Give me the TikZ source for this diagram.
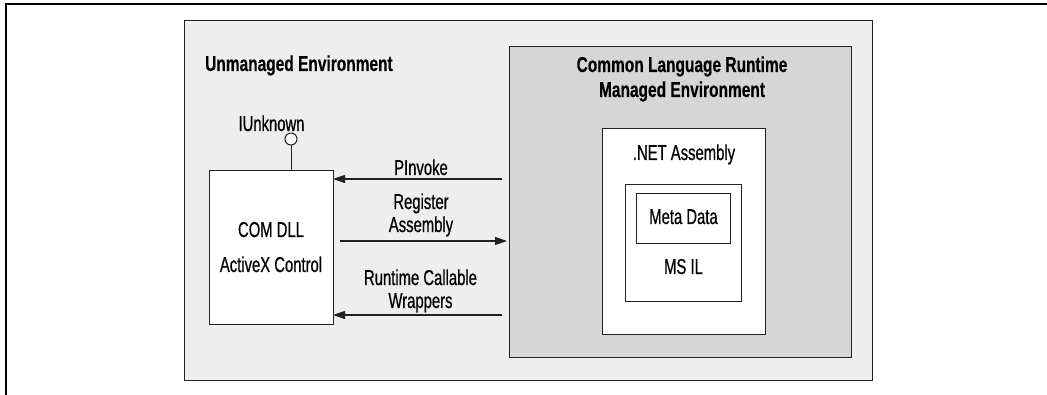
\documentclass[tikz,border=0pt]{standalone}
\usepackage{fontspec}
\setmainfont[FakeStretch=0.69,FakeBold=0.6,BoldFeatures={FakeStretch=0.72,FakeBold=0.3}]{Liberation Sans}
\usetikzlibrary{arrows.meta}
\definecolor{envfill}{HTML}{EEEEEE}
\definecolor{clrfill}{HTML}{D6D6D6}
\definecolor{linec}{HTML}{222222}
\begin{document}
\begin{tikzpicture}[x=1pt,y=-1pt,
  every node/.style={font=\fontsize{21.5}{23}\selectfont, text=black},
  box/.style={draw=linec, line width=1pt, anchor=north west, inner sep=0pt, outer sep=0pt},
  lbl/.style={anchor=base, inner sep=0pt, align=center},
  ttl/.style={anchor=base, inner sep=0pt, align=center, font=\fontsize{21.5}{23}\selectfont\bfseries},
  arr/.style={draw=linec, line width=1.1pt, -{Triangle[length=12pt,width=8pt]}}
]
\useasboundingbox (0,0) rectangle (1047,395);
% outer frame (clipped at right and bottom)
\draw[line width=1.5pt, black] (6,395) -- (6,4) -- (1047,4);

\node[box, fill=envfill, minimum width=688pt, minimum height=359pt] (env) at (184,21) {};
\node[box, fill=clrfill, minimum width=342pt, minimum height=310pt] (clr) at (509,47) {};
\node[box, fill=white, minimum width=163pt, minimum height=206pt] (net) at (602,129) {};
\node[box, fill=white, minimum width=116pt, minimum height=117pt] (msil) at (625,185) {};
\node[box, fill=white, minimum width=94pt, minimum height=50pt] (meta) at (636,194) {};
\node[box, fill=white, minimum width=124pt, minimum height=154pt] (com) at (209,171) {};

% texts (multi-line nodes: base = baseline of last line)
\node[ttl, anchor=base west] (envt) at (205,71) {Unmanaged Environment};
\node[ttl] (clrt) at (682,97) {Common Language Runtime\\[2pt]Managed Environment};
\node[lbl] (nett) at (684,160) {.NET Assembly};
\node[lbl] (metat) at (683.5,224) {Meta Data};
\node[lbl] (msilt) at (683.5,274) {MS IL};
\node[lbl] (comt) at (271,272) {COM DLL\\[12pt]ActiveX Control};

% IUnknown lollipop
\node[draw=linec, fill=white, circle, line width=1pt, minimum size=12pt, inner sep=0pt] (iu) at (291,139) {};
\draw[linec, line width=1pt] (iu.south) -- (iu.south |- com.north);
\node[lbl] (iut) at (271.5,131) {IUnknown};

% connectors
\coordinate (yp) at (0,179);
\coordinate (yr) at (0,241);
\coordinate (yw) at (0,315);
\draw[arr, shorten <=7pt] (clr.west |- yp) -- (com.east |- yp);
\draw[arr, shorten <=7pt, shorten >=2pt] (com.east |- yr) -- (clr.west |- yr);
\draw[arr, shorten <=7pt] (clr.west |- yw) -- (com.east |- yw);

\node[lbl] (pinv) at (421,175) {PInvoke};
\node[lbl] (reg) at (421,232) {Register\\Assembly};
\node[lbl] (rcw) at (420.5,308) {Runtime Callable\\Wrappers};
\end{tikzpicture}
\end{document}
